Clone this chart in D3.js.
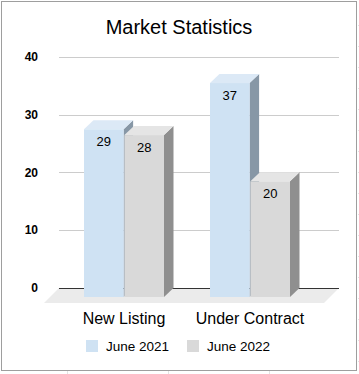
<!DOCTYPE html>
<html>
<head>
<meta charset="utf-8">
<script src="https://cdn.jsdelivr.net/npm/d3@7"></script>
<style>
  html, body { margin: 0; padding: 0; background: #fff; }
  svg { display: block; font-family: "Liberation Sans", Arial, sans-serif; }
</style>
</head>
<body>
<svg id="chart" width="359" height="374"></svg>
<script>
const title = "Market Statistics";
const categories = ["New Listing", "Under Contract"];
const seriesNames = ["June 2021", "June 2022"];
const june2021 = [29, 37];
const june2022 = [28, 20];
const yTicks = [0, 10, 20, 30, 40];

const seriesValues = [june2021, june2022];
const frontColors = ["#cfe2f3", "#d9d9d9"];
const topColors = ["#dce9f6", "#e5e5e5"];
const sideColors = ["#8797a6", "#8f8f8f"];

const svg = d3.select("#chart");

// faint spreadsheet grid outside the chart frame
const sheet = svg.append("g").attr("stroke", "#e3e3e3").attr("stroke-width", 1);
[67.5, 168.5, 269.5].forEach(x => sheet.append("line").attr("x1", x).attr("x2", x).attr("y1", 371).attr("y2", 374));
d3.range(25, 374, 21).forEach(y => sheet.append("line").attr("x1", 358).attr("x2", 359).attr("y1", y + 0.5).attr("y2", y + 0.5));

// frame
svg.append("rect").attr("x", 1.5).attr("y", 1.5).attr("width", 355).attr("height", 369)
  .attr("fill", "#fff").attr("stroke", "#9e9e9e").attr("stroke-width", 1);

// title
svg.append("text").attr("x", 179).attr("y", 34).attr("text-anchor", "middle")
  .attr("font-size", 20).attr("fill", "#000").text(title);

const plotLeft = 59, plotRight = 339;
const y = d3.scaleLinear().domain([0, 40]).range([288, 56.7]);
const x0 = d3.scaleBand().domain(categories).range([61, 313]);
const groupW = 80;
const x1 = d3.scaleBand().domain(seriesNames).range([0, groupW]).paddingInner(0.02);
const dx = 9.5, dy = 9;

// floor
const y0 = y(0);
svg.append("path")
  .attr("d", `M${plotLeft},${y0} L${plotRight},${y0} L${plotRight - 15},${y0 + 15} L${plotLeft - 15},${y0 + 15} Z`)
  .attr("fill", "#ebebeb");

// gridlines
svg.append("g").selectAll("line").data(yTicks.filter(t => t > 0)).join("line")
  .attr("x1", plotLeft).attr("x2", plotRight)
  .attr("y1", d => Math.round(y(d)) + 0.5).attr("y2", d => Math.round(y(d)) + 0.5)
  .attr("stroke", "#cccccc").attr("stroke-width", 1);
svg.append("line").attr("x1", plotLeft).attr("x2", plotRight)
  .attr("y1", Math.round(y0) + 0.5).attr("y2", Math.round(y0) + 0.5)
  .attr("stroke", "#333").attr("stroke-width", 1);

// y labels
svg.append("g").selectAll("text").data(yTicks).join("text")
  .attr("x", 38).attr("y", d => y(d)).attr("dy", "0.35em")
  .attr("text-anchor", "end").attr("font-size", 12).attr("font-weight", "bold")
  .attr("fill", "#000").text(d => d);

// bars
const bars = [];
categories.forEach((c, ci) => {
  seriesNames.forEach((s, si) => {
    bars.push({ c, s, si, v: seriesValues[si][ci] });
  });
});
const barG = svg.append("g");
bars.forEach(b => {
  const x = x0(b.c) + (x0.bandwidth() - groupW) / 2 + x1(b.s);
  const w = x1.bandwidth();
  const yt = y(b.v) + dy;
  const yb = y0 + dy;
  const g = barG.append("g");
  g.append("path")
    .attr("d", `M${x + w},${yt} L${x + w + dx},${yt - dy} L${x + w + dx},${yb - dy} L${x + w},${yb} Z`)
    .attr("fill", sideColors[b.si]);
  g.append("path")
    .attr("d", `M${x},${yt} L${x + dx},${yt - dy} L${x + w + dx},${yt - dy} L${x + w},${yt} Z`)
    .attr("fill", topColors[b.si]);
  g.append("rect").attr("x", x).attr("y", yt).attr("width", w).attr("height", yb - yt)
    .attr("fill", frontColors[b.si]);
  g.append("text").attr("x", x + w / 2).attr("y", yt + 17)
    .attr("text-anchor", "middle").attr("font-size", 13).attr("fill", "#000").text(b.v);
});

// category labels
svg.append("g").selectAll("text").data(categories).join("text")
  .attr("x", d => x0(d) + x0.bandwidth() / 2).attr("y", 324)
  .attr("text-anchor", "middle").attr("font-size", 16).attr("fill", "#000").text(d => d);

// legend
const legendX = [86, 187];
const lg = svg.append("g");
seriesNames.forEach((s, i) => {
  lg.append("rect").attr("x", legendX[i]).attr("y", 340).attr("width", 12).attr("height", 12)
    .attr("fill", frontColors[i]);
  lg.append("text").attr("x", legendX[i] + 20).attr("y", 351)
    .attr("font-size", 13.5).attr("fill", "#000").text(s);
});
</script>
</body>
</html>
